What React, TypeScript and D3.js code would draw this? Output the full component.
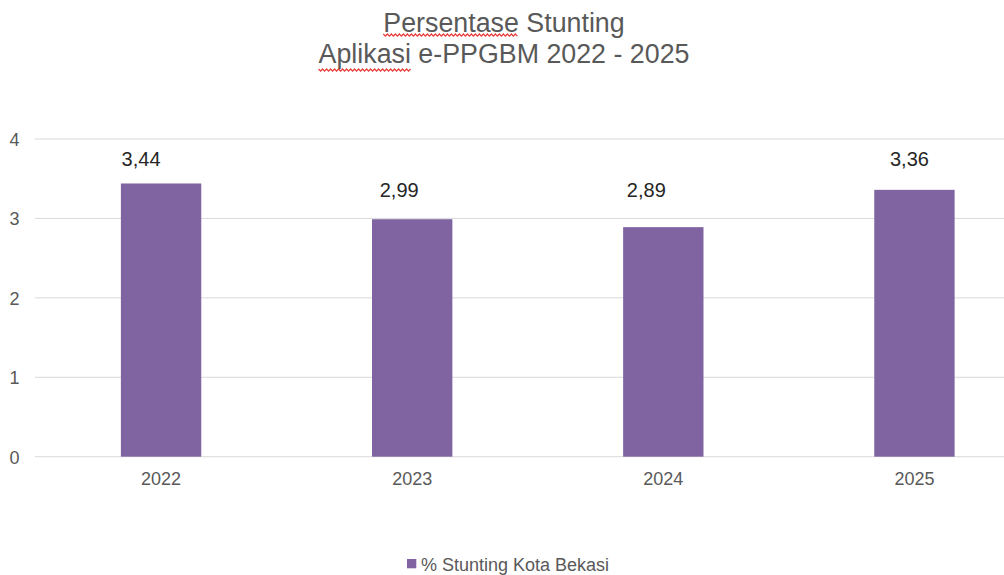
import React, { useLayoutEffect, useRef, useState } from "react";
import * as d3 from "d3";

const categories = ["2022", "2023", "2024", "2025"];
const values = [3.44, 2.99, 2.89, 3.36];
const valueLabels = ["3,44", "2,99", "2,89", "3,36"];
const yTicks = [0, 1, 2, 3, 4];
const seriesName = "% Stunting Kota Bekasi";
const titleLine1 = ["Persentase", " Stunting"];
const titleLine2 = ["Aplikasi", " e-PPGBM 2022 - 2025"];

// manual data-label placement nudges (as in the reference)
const labelDx = [-20, -13, -17, -5];
const labelGap = [17.6, 22, 30, 24];

const W = 1004;
const H = 575;
const FONT = "'Liberation Sans', Arial, sans-serif";
const BAR = "#8064A2";
const GRID = "#d9d9d9";
const TXT = "#595959";

function wavy(x0: number, x1: number, y: number) {
  const pts: [number, number][] = [];
  for (let x = x0, i = 0; x <= x1; x += 2, i++) pts.push([x, y + (i % 2 === 0 ? 0 : 2.2)]);
  return d3.line()(pts) || "";
}

export default function App() {
  const x = d3.scaleBand<string>().domain(categories).range([35.5, 1040]).paddingInner(0.68).paddingOuter(0.34);
  const y = d3.scaleLinear().domain([0, 4]).range([456.7, 139]);
  const r1 = useRef<SVGTSpanElement>(null);
  const r2 = useRef<SVGTSpanElement>(null);
  const [u, setU] = useState<{ a: [number, number]; b: [number, number] } | null>(null);

  useLayoutEffect(() => {
    if (r1.current && r2.current) {
      const b1 = r1.current.getBBox();
      const b2 = r2.current.getBBox();
      setU({ a: [b1.x, b1.x + b1.width], b: [b2.x, b2.x + b2.width] });
    }
  }, []);

  return (
    <svg width={W} height={H} style={{ position: "fixed", left: 0, top: 0, background: "#fff" }} fontFamily={FONT}>
      <rect width={W} height={H} fill="#fff" />
      <text x={504} y={32} textAnchor="middle" fontSize={26.8} fill={TXT}>
        <tspan ref={r1}>{titleLine1[0]}</tspan>
        <tspan>{titleLine1[1]}</tspan>
      </text>
      <text x={504} y={63} textAnchor="middle" fontSize={26.8} fill={TXT}>
        <tspan ref={r2}>{titleLine2[0]}</tspan>
        <tspan>{titleLine2[1]}</tspan>
      </text>
      {u && (
        <g fill="none" stroke="#e53935" strokeWidth={1.2}>
          <path d={wavy(u.a[0], u.a[1], 34)} />
          <path d={wavy(u.b[0], u.b[1], 69)} />
        </g>
      )}
      {yTicks.map((t) => (
        <g key={t}>
          <line x1={35} x2={W} y1={y(t)} y2={y(t)} stroke={GRID} strokeWidth={1} />
          <text x={19.5} y={y(t) + 7} textAnchor="end" fontSize={18} fill={TXT}>
            {t}
          </text>
        </g>
      ))}
      {categories.map((c, i) => (
        <g key={c}>
          <rect x={x(c)!} y={y(values[i])} width={x.bandwidth()} height={y(0) - y(values[i])} fill={BAR} />
          <text
            x={x(c)! + x.bandwidth() / 2 + labelDx[i]}
            y={y(values[i]) - labelGap[i]}
            textAnchor="middle"
            fontSize={20}
            fill="#262626"
          >
            {valueLabels[i]}
          </text>
          <text x={x(c)! + x.bandwidth() / 2} y={485} textAnchor="middle" fontSize={18} fill={TXT}>
            {c}
          </text>
        </g>
      ))}
      <rect x={407} y={559} width={9.3} height={9.3} fill={BAR} />
      <text x={421} y={570.7} fontSize={18} fill={TXT}>
        {seriesName}
      </text>
    </svg>
  );
}
